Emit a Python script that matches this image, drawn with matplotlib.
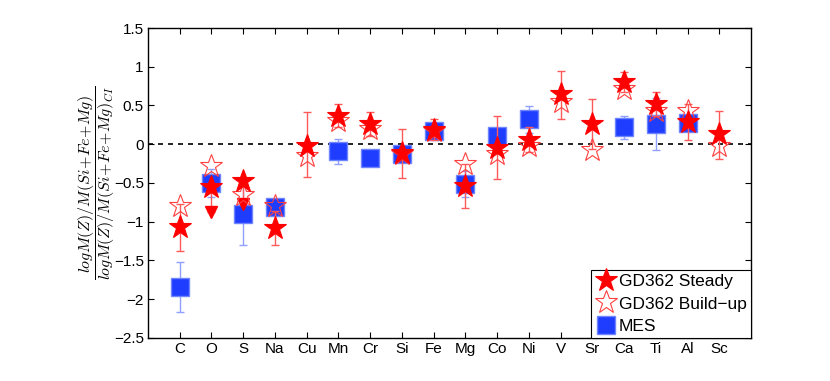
import matplotlib
matplotlib.use("Agg")
import matplotlib.pyplot as plt
import numpy as np

plt.rcParams['font.family'] = ['Liberation Sans', 'DejaVu Sans']
plt.rcParams['mathtext.fontset'] = 'cm'

elements = ['C', 'O', 'S', 'Na', 'Cu', 'Mn', 'Cr', 'Si', 'Fe', 'Mg', 'Co', 'Ni',
            'V', 'Sr', 'Ca', 'Ti', 'Al', 'Sc']

steady = [-1.07, -0.55, -0.48, -1.08, -0.02, 0.37, 0.26, -0.11, 0.19, -0.54,
          -0.05, 0.06, 0.65, 0.26, 0.80, 0.52, 0.29, 0.13]
steady_err_lo = [0.31, 0.32, 0.28, 0.22, 0.40, 0.15, 0.15, 0.33, 0.14, 0.28,
                 0.40, 0.16, 0.33, 0.32, 0.13, 0.16, 0.23, 0.32]
steady_err_hi = [0.30, 0.0, 0.0, 0.22, 0.43, 0.15, 0.15, 0.31, 0.14, 0.28,
                 0.42, 0.16, 0.30, 0.32, 0.13, 0.16, 0.23, 0.30]

# upper limits (downward arrows) for Steady model
limit_elements = ['O', 'S']
limit_values = [-0.87, -0.77]

buildup = [-0.80, -0.28, -0.65, -0.80, -0.15, 0.30, 0.20, -0.12, 0.17, -0.26,
           -0.13, -0.02, 0.54, -0.07, 0.71, 0.43, 0.43, -0.02]

mes_elements = ['C', 'O', 'S', 'Na', 'Mn', 'Cr', 'Si', 'Fe', 'Mg', 'Co', 'Ni',
                'Ca', 'Ti', 'Al']
mes = [-1.84, -0.50, -0.90, -0.81, -0.09, -0.18, -0.12, 0.17, -0.51, 0.11, 0.32,
       0.22, 0.26, 0.27]
mes_err = [0.32, 0.18, 0.40, 0.05, 0.16, 0.05, 0.05, 0.05, 0.17, 0.05, 0.17,
           0.15, 0.34, 0.05]

yticks = [-2.5, -2, -1.5, -1, -0.5, 0, 0.5, 1, 1.5]

fig = plt.figure(figsize=(8.3, 3.81), dpi=100)
ax = fig.add_axes([0.1783, 0.1129, 0.7265, 0.8136])

pos = {e: i + 1 for i, e in enumerate(elements)}
x = np.array([pos[e] for e in elements])
xm = np.array([pos[e] for e in mes_elements])
xl = np.array([pos[e] for e in limit_elements])

ax.axhline(0, color='black', ls=(0, (3, 3)), lw=1.2, zorder=1)

red_light = '#ff5a5a'
blue_face = '#1f3dff'
blue_light = '#8fa0ff'

# MES
ax.errorbar(xm, mes, yerr=mes_err, fmt='none', ecolor=blue_light, elinewidth=1.0,
            capsize=3, capthick=1.0, zorder=2)
ax.plot(xm, mes, ls='none', marker='s', ms=13.5, mfc=blue_face, mec='#6f85ff',
        mew=1.0, zorder=3, label='MES')

# Steady error bars
ax.errorbar(x, steady, yerr=[steady_err_lo, steady_err_hi], fmt='none',
            ecolor=red_light, elinewidth=1.0, capsize=3.2, capthick=1.0, zorder=4)
ax.plot(xl, limit_values, ls='none', marker='v', ms=8, mfc='red', mec='red', zorder=4)

# Build-up (open stars)
ax.plot(x, buildup, ls='none', marker='*', ms=17, mfc='none', mec='#ff4040',
        mew=0.8, zorder=5, label='GD362 Build\u2212up')
# Steady (filled stars)
ax.plot(x, steady, ls='none', marker='*', ms=17, mfc='red', mec='red',
        mew=0.8, zorder=6, label='GD362 Steady')

ax.set_xlim(0, len(elements) + 1)
ax.set_ylim(-2.5, 1.5)
ax.set_xticks(x)
ax.set_xticklabels(elements, fontsize=11)
ax.set_yticks(yticks)
ax.set_yticklabels(['\u22122.5', '\u22122', '\u22121.5', '\u22121', '\u22120.5', '0',
                    '0.5', '1', '1.5'], fontsize=11)
ax.tick_params(direction='in', top=True, right=True, length=4, width=0.8, pad=3)
for s in ax.spines.values():
    s.set_linewidth(1.0)

ax.set_ylabel(r'$\dfrac{logM(Z)/M(Si\!+\!Fe\!+\!Mg)}{logM(Z)/M(Si\!+\!Fe\!+\!Mg)_{CI}}$',
              fontsize=11.5, labelpad=-2)

h, l = ax.get_legend_handles_labels()
order = [2, 1, 0]
leg = ax.legend([h[i] for i in order], [l[i] for i in order], loc='lower right',
                borderaxespad=0, fancybox=False, edgecolor='black', framealpha=1,
                fontsize=12.5, handlelength=1.2, handletextpad=0.15, labelspacing=0.4,
                borderpad=0.25, markerscale=1.0)
leg.get_frame().set_linewidth(0.8)

fig.savefig('out.png', dpi=100)
